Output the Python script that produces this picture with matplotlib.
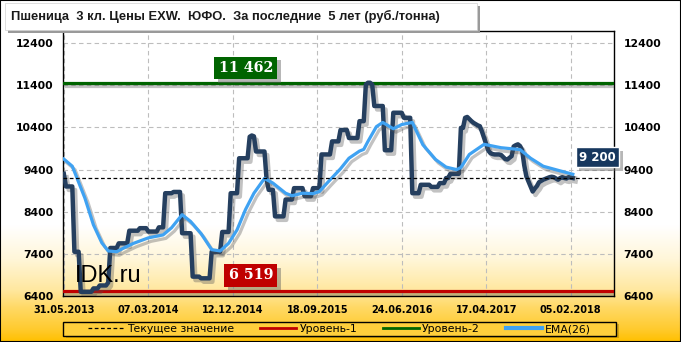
import numpy as np
import matplotlib
matplotlib.use("Agg")
import matplotlib.pyplot as plt
from matplotlib import patheffects as pe
from matplotlib.colors import LinearSegmentedColormap
from matplotlib.lines import Line2D
from matplotlib.patches import Rectangle

TITLE = "Пшеница  3 кл. Цены EXW.  ЮФО.  За последние  5 лет (руб./тонна)"
date_labels = ["31.05.2013", "07.03.2014", "12.12.2014", "18.09.2015",
               "24.06.2016", "17.04.2017", "05.02.2018"]
date_pos = [0, 40, 80, 120, 160, 200, 240]
yticks = [6400, 7400, 8400, 9400, 10400, 11400, 12400]

current = 9200
level_1 = 6519
level_2 = 11462

# weekly price, руб./т
price = ([9300] + [9000] * 4 + [7450] * 3 + [6500] * 6 + [6580] * 3 + [6650] * 4
         + [6720] + [7540] * 4 + [7650] * 5 + [7950] * 5 + [8010] * 4 + [7930] * 5
         + [8030] * 3 + [8840] * 4 + [8870] * 4 + [7890] * 5 + [6860] * 4 + [6820] * 5
         + [7450] * 5 + [7920] * 4 + [8840] * 4 + [9670] * 5 + [10180, 10210, 10190]
         + [9830] * 5 + [9160] + [8920] * 3 + [8290] * 5 + [8690] * 4 + [8960] * 5
         + [8770] * 4 + [8960] * 4 + [9760] * 5 + [10070] * 4 + [10340] * 4
         + [10150] * 5 + [10550] * 3 + [11420, 11462, 11462, 11420] + [10910] * 5
         + [9860] * 4 + [10750] * 5 + [10630] * 4 + [8840] * 4 + [9040] * 5
         + [8990] * 4 + [9080] * 3 + [9200] * 2 + [9300] * 5 + [10390] * 2
         + [10630, 10650]
         + [10600, 10550, 10510, 10480, 10450, 10430, 10300, 10150, 10000, 9850]
         + [9790, 9770, 9760, 9760, 9760, 9750, 9700, 9650, 9640, 9680]
         + [9720, 9950, 9980, 10000, 9960, 9860, 9500, 9240, 9120, 9000]
         + [8880, 8950, 9010, 9100, 9130, 9160, 9180, 9200, 9220, 9230]
         + [9220, 9190, 9160, 9200, 9220, 9200, 9190, 9220, 9210, 9200])

# EMA(26) at selected weeks
ema_week = [0, 4, 7, 10, 14, 18, 21, 25, 28, 33, 40, 47, 51, 56, 60, 65, 70, 74,
            78, 82, 86, 90, 95, 99, 105, 108, 113, 118, 121, 125, 131, 135, 140,
            142, 144, 148, 151, 156, 160, 165, 170, 176, 181, 186, 188, 192, 199,
            207, 216, 221, 227, 235, 241]
ema_val = [9650, 9480, 9100, 8720, 8090, 7660, 7470, 7450, 7530, 7650, 7780, 7850,
           8020, 8330, 8170, 7880, 7500, 7470, 7650, 7970, 8450, 8840, 9190, 9080,
           8840, 8780, 8840, 8830, 8880, 9100, 9420, 9670, 9840, 9880, 10070, 10420,
           10520, 10370, 10470, 10520, 9990, 9640, 9460, 9400, 9450, 9760, 10000,
           9920, 9875, 9670, 9480, 9370, 9290]

W, H = 681, 342
NAVY = "#253f5f"
BLUE = "#3fa2f2"
GREEN = "#006400"
RED = "#c00000"

fig = plt.figure(figsize=(W / 100, H / 100), dpi=100)
fig.patch.set_facecolor("white")

# background gradient (white -> orange-yellow at the bottom)
bg = fig.add_axes([0, 0, 1, 1], zorder=-10)
cmap = LinearSegmentedColormap.from_list(
    "bg", [(0, "#ffc000"), (0.038, "#ffcb30"), (0.096, "#ffd862"),
           (0.152, "#ffe8a0"), (0.24, "#fff6d8"), (0.34, "#ffffff"), (1, "#ffffff")])
bg.imshow(np.linspace(0, 1, 256)[:, None], aspect="auto", cmap=cmap,
          origin="lower", extent=[0, 1, 0, 1])
bg.set_xlim(0, 1)
bg.set_ylim(0, 1)
bg.axis("off")


def fx(px):
    return px / W


def fy(py):
    return 1 - py / H


# title box with shadow
fig.patches.append(Rectangle((fx(8), fy(33)), fx(472), 27 / H, transform=fig.transFigure,
                             fc="#9a9a9a", ec="none", zorder=1))
fig.patches.append(Rectangle((fx(5), fy(30)), fx(472), 27 / H, transform=fig.transFigure,
                             fc="white", ec="#d0d0d0", lw=0.5, zorder=2))
fig.text(fx(11), fy(16.5), TITLE, fontsize=9.3, fontweight="bold", color="#1a1a1a",
         family="Liberation Sans", va="center", ha="left", zorder=3)

ax = fig.add_axes([fx(63), fy(296), fx(614 - 63), (296 - 31) / H])
ax.set_facecolor("none")
ax.set_xlim(-0.4, 260.5)
ax.set_ylim(6400, 12690)

shadow = [pe.SimpleLineShadow(offset=(2, -2.5), shadow_color="#505050", alpha=0.35),
          pe.Normal()]

weeks = np.arange(len(price))
ax.axhline(level_2, color=GREEN, lw=2.3, path_effects=shadow, zorder=3)
ax.axhline(level_1, color=RED, lw=2.3, path_effects=shadow, zorder=3)
ax.plot(weeks, price, color=NAVY, lw=3.2, solid_joinstyle="round",
        path_effects=shadow, zorder=4)
ax.plot(ema_week, ema_val, color=BLUE, lw=2.3, solid_joinstyle="round",
        path_effects=shadow, zorder=5)
ax.axhline(current, color="black", lw=0.9, ls=(0, (3, 2)), zorder=6)

ax.set_yticks(yticks)
ax.set_xticks(date_pos)
ax.set_xticklabels(date_labels)
ax.grid(True, color="#bdbdbd", lw=0.8, ls=(0, (4, 3)))
ax.set_axisbelow(True)
ax.tick_params(axis="both", length=0)
ax.tick_params(axis="y", labelsize=7.8, pad=7, labelright=True, right=False)
ax.tick_params(axis="x", labelsize=7, pad=6.5)
for lab in ax.get_xticklabels():
    lab.set_fontweight("bold")
for t in ax.yaxis.get_major_ticks():
    t.label1.set_fontweight("bold")
    t.label2.set_fontweight("bold")
for s in ax.spines.values():
    s.set_color("black")
    s.set_linewidth(1.0)

ax.text(20.8, 6880, "IDK.ru", fontsize=17, family="Liberation Sans", color="black",
        ha="center", va="center", zorder=7)


def value_box(x, y, txt, fc, ha, family, size, ec="none"):
    t = ax.text(x, y, txt, color="white", fontsize=size, family=family, fontweight="bold",
                ha=ha, va="center", clip_on=False, zorder=8,
                bbox=dict(boxstyle="square,pad=0.3", fc=fc, ec=ec, lw=1))
    t.get_bbox_patch().set_path_effects(
        [pe.SimplePatchShadow(offset=(2.5, -2.5), shadow_rgbFace="#606060", alpha=0.45),
         pe.Normal()])


value_box(99.1, 11816, "11 462", GREEN, "right", "DejaVu Serif", 10.3)
value_box(99.1, 6887, "6 519", RED, "right", "DejaVu Serif", 10.3)
value_box(244, 9690, "9 200", "#17375e", "left", "DejaVu Sans", 8.5, ec="white")

# legend box
fig.patches.append(Rectangle((fx(65.5), fy(338)), fx(553), 14 / H, transform=fig.transFigure,
                             fc="#a07a00", ec="none", alpha=0.45, zorder=1))
fig.patches.append(Rectangle((fx(63), fy(336)), fx(553), 14 / H, transform=fig.transFigure,
                             fc="#ffcf3c", ec="black", lw=1.0, zorder=2))
handles = [Line2D([], [], color="black", lw=0.9, ls=(0, (3, 2))),
           Line2D([], [], color=RED, lw=2),
           Line2D([], [], color=GREEN, lw=2),
           Line2D([], [], color=BLUE, lw=3)]
labels = ["Текущее значение", "Уровень-1", "Уровень-2", "EMA(26)"]
fig.legend(handles, labels, loc="center", bbox_to_anchor=(fx(339.5), fy(329)), ncol=4,
           frameon=False, fontsize=7.8, handlelength=3.3, handletextpad=0.3,
           columnspacing=2.4, borderpad=0)

# outer frame
fig.patches.append(Rectangle((0, 0), 1, 1, transform=fig.transFigure, fc="none",
                             ec="black", lw=1.5, zorder=10))

fig.savefig("out.png", dpi=100)
